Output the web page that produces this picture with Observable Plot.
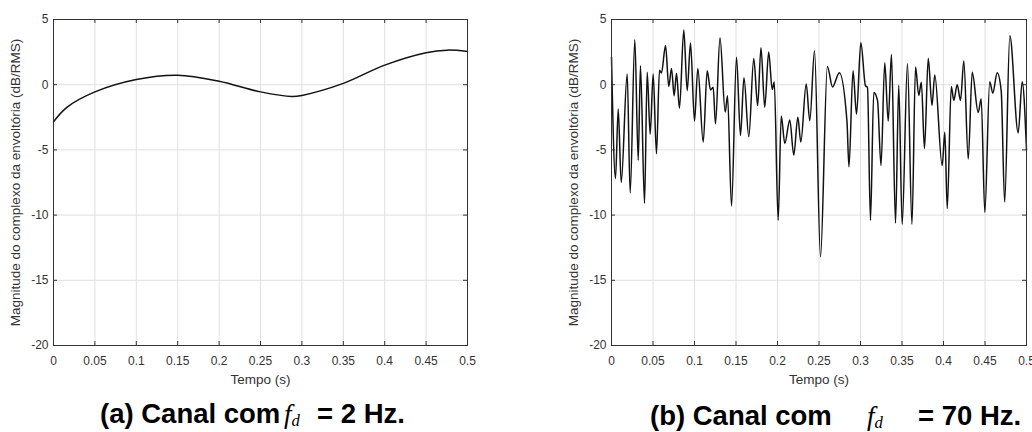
<!DOCTYPE html>
<html><head><meta charset="utf-8">
<script src="https://cdn.jsdelivr.net/npm/d3@7"></script>
<script src="https://cdn.jsdelivr.net/npm/@observablehq/plot@0.6"></script>
<style>
html,body{margin:0;padding:0;background:#fff;overflow:hidden;}
#wrap{position:relative;width:1032px;height:432px;overflow:hidden;font-family:"Liberation Sans",Arial,sans-serif;}
.panel{position:absolute;top:0;}
.cap{position:absolute;font-weight:bold;font-size:27.5px;color:#000;white-space:nowrap;line-height:1;}
.cap span{display:inline-block;}
.fm{font-family:"Liberation Serif","DejaVu Serif",serif;font-style:italic;font-weight:normal;font-size:27px;}
.fm sub{font-size:0.62em;vertical-align:-0.2em;}
</style></head><body><div id="wrap"></div>
<script>
const xTicks = [0, 0.05, 0.1, 0.15, 0.2, 0.25, 0.3, 0.35, 0.4, 0.45, 0.5];
const yTicks = [-20, -15, -10, -5, 0, 5];
const xLabel = "Tempo (s)";
const yLabel = "Magnitude do complexo da envoltória (dB/RMS)";

// (a) fd = 2 Hz
const tA = [0, 0.0165, 0.05, 0.1, 0.15, 0.2, 0.25, 0.288, 0.3, 0.35, 0.4, 0.45, 0.475, 0.5];
const vA = [-2.85, -1.72, -0.55, 0.4, 0.73, 0.27, -0.55, -0.9, -0.82, 0.1, 1.5, 2.45, 2.65, 2.55];

// (b) fd = 70 Hz
const tB = [0, 0.0048, 0.0081, 0.0117, 0.0189, 0.0225, 0.0281, 0.0322, 0.0349, 0.0398,
  0.0430, 0.0466, 0.0502, 0.0542, 0.0578, 0.0602, 0.0651, 0.0690, 0.0723, 0.0755,
  0.0783, 0.0819, 0.0871, 0.0912, 0.0952, 0.1000, 0.1040, 0.1105, 0.1153, 0.1193,
  0.1225, 0.1253, 0.1307, 0.1370, 0.1398, 0.1446, 0.1506, 0.1554, 0.1596, 0.1654,
  0.1714, 0.1761, 0.1801, 0.1846, 0.1894, 0.1936, 0.1961, 0.2008, 0.2045, 0.2088,
  0.2148, 0.2196, 0.2245, 0.2281, 0.2346, 0.2389, 0.2446, 0.2518, 0.2601, 0.2663,
  0.2745, 0.2837, 0.2861, 0.2910, 0.2952, 0.3004, 0.3060, 0.3084, 0.3120, 0.3160,
  0.3205, 0.3247, 0.3292, 0.3334, 0.3373, 0.3422, 0.3461, 0.3502, 0.3566, 0.3620,
  0.3663, 0.3702, 0.3733, 0.3771, 0.3816, 0.3861, 0.3895, 0.3984, 0.4016, 0.4045,
  0.4094, 0.4124, 0.4165, 0.4205, 0.4245, 0.4298, 0.4346, 0.4418, 0.4454, 0.4498,
  0.4557, 0.4594, 0.4647, 0.4695, 0.4737, 0.4799, 0.4900, 0.4948, 0.5];
const vB = [2.1, -7.2, -1.86, -7.5, 0.82, -8.3, 3.45, -5.8, 1.46, -9.1,
  0.95, -3.8, 0.82, -5.3, 1.1, 0.9, 3.0, -0.13, 1.25, -0.85,
  0.87, -1.8, 4.2, -0.46, 3.2, -2.8, 1.25, -4.4, 1.07, -0.4,
  -0.2, -3.0, 3.6, -2.1, -0.84, -9.3, 2.1, -3.9, 0.53, -4.0,
  2.0, -1.6, 2.83, -1.72, 2.5, -0.37, 0.2, -10.4, -2.4, -4.5,
  -2.7, -5.4, -2.5, -4.4, 0.05, -2.76, 2.6, -13.2, 1.4, -0.17,
  0.92, -2.8, -6.3, 1.07, -2.25, 3.22, -0.08, -0.2, -10.4, -0.6,
  -1.2, -6.2, 1.68, -2.8, 2.32, -10.6, -0.05, -10.7, 1.6, -10.7,
  1.35, -0.82, 0.18, -4.9, 2.02, -1.58, 0.75, -6.2, -3.65, -9.5,
  -0.14, -1.2, 0.0, -1.2, 1.82, -5.7, 0.95, -2.13, -1.08, -9.8,
  0.23, -0.65, 0.92, -0.46, -9.0, 3.75, -3.7, 0.23, -5.0];

const font = '"Liberation Sans", Arial, sans-serif';
const wrap = document.getElementById("wrap");

function panel(t, v, curve, left, width, marginRight) {
  const data = t.map((d, i) => ({t: d, v: v[i]}));
  const height = 390, mt = 19, mb = 45, ml = 53;
  const pw = width - ml - marginRight, ph = height - mt - mb;
  const svg = Plot.plot({
    width, height, marginLeft: ml, marginRight, marginTop: mt, marginBottom: mb,
    x: {domain: [0, 0.5]},
    y: {domain: [-20, 5]},
    style: {fontFamily: font, fontSize: "12px", color: "#333", background: "transparent", overflow: "visible"},
    marks: [
      Plot.gridX(xTicks, {stroke: "#e0e0e0", strokeOpacity: 1}),
      Plot.gridY(yTicks, {stroke: "#e0e0e0", strokeOpacity: 1}),
      Plot.line(data, {x: "t", y: "v", curve, stroke: "#111", strokeWidth: 1.5}),
      Plot.ruleX(xTicks, {x: d => d, insetTop: ph - 4, stroke: "#333"}),
      Plot.ruleX(xTicks, {x: d => d, insetBottom: ph - 4, stroke: "#333"}),
      Plot.ruleY(yTicks, {y: d => d, insetRight: pw - 4, stroke: "#333"}),
      Plot.ruleY(yTicks, {y: d => d, insetLeft: pw - 4, stroke: "#333"}),
      Plot.frame({stroke: "#333"}),
      Plot.axisX(xTicks, {tickSize: 0, tickPadding: 11, tickFormat: d => String(d), label: null}),
      Plot.axisY(yTicks, {tickSize: 0, tickPadding: 5, tickFormat: d => String(d), label: null}),
      Plot.text([xLabel], {text: d => d, frameAnchor: "bottom", lineAnchor: "bottom", dy: 38, fontSize: 13.5, fill: "#333"}),
      Plot.text([yLabel], {text: d => d, frameAnchor: "left", textAnchor: "middle", lineAnchor: "top", rotate: -90, dx: -43, fontSize: 13.5, fill: "#333"})
    ]
  });
  svg.classList.add("panel");
  svg.style.left = left + "px";
  wrap.appendChild(svg);
}

panel(tA, vA, "catmull-rom", 0, 500, 33);
panel(tB, vB, "monotone-x", 558, 474, 6);

function caption(left, top, w1, w2, p1, p3) {
  const d = document.createElement("div");
  d.className = "cap";
  d.style.left = left + "px";
  d.style.top = top + "px";
  const a = document.createElement("span"); a.style.width = w1 + "px"; a.textContent = p1;
  const f = document.createElement("span"); f.className = "fm"; f.style.width = w2 + "px";
  f.innerHTML = "f<sub>d</sub>";
  const c = document.createElement("span"); c.textContent = p3;
  d.append(a, f, c);
  wrap.appendChild(d);
}
caption(100, 400, 184, 33, "(a) Canal com", "= 2 Hz.");
caption(650, 402, 217, 51, "(b) Canal com", "= 70 Hz.");
</script></body></html>
